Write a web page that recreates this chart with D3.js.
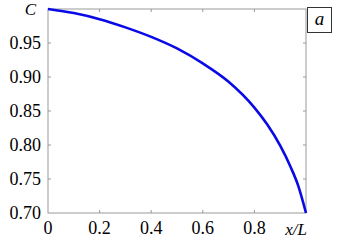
<!DOCTYPE html>
<html>
<head>
<meta charset="utf-8">
<script src="https://cdn.jsdelivr.net/npm/d3@7"></script>
<style>
  body { margin: 0; background: #fff; }
  svg text { font-family: "Liberation Serif", "DejaVu Serif", serif; fill: #000; }
</style>
</head>
<body>
<script>
// values
const xVals = [0, 0.1, 0.2, 0.3, 0.4, 0.5, 0.6, 0.7, 0.8, 0.85, 0.9, 0.94, 0.97, 1.0];
const cVals = [1.000, 0.994, 0.985, 0.973, 0.959, 0.942, 0.920, 0.893, 0.855, 0.830, 0.799, 0.768, 0.740, 0.700];
const xTicks = [0, 0.2, 0.4, 0.6, 0.8];
const yTicks = [0.70, 0.75, 0.80, 0.85, 0.90, 0.95];

const width = 337, height = 241;
const mLeft = 48, mRight = 306, mTop = 9, mBottom = 213;

const svg = d3.select("body").append("svg")
  .attr("width", width)
  .attr("height", height);

const x = d3.scaleLinear().domain([0, 1]).range([mLeft, mRight]);
const y = d3.scaleLinear().domain([0.70, 1.0]).range([mBottom, mTop]);

const grey = "#999";

// frame
svg.append("rect")
  .attr("x", mLeft).attr("y", mTop)
  .attr("width", mRight - mLeft).attr("height", mBottom - mTop)
  .attr("fill", "none").attr("stroke", grey).attr("stroke-width", 1);

// inward ticks on all sides
const tl = 3;
svg.selectAll(".xt").data(xTicks.slice(1)).enter().append("g").each(function(d) {
  const g = d3.select(this);
  g.append("line").attr("x1", x(d)).attr("x2", x(d)).attr("y1", mBottom).attr("y2", mBottom - tl).attr("stroke", grey);
  g.append("line").attr("x1", x(d)).attr("x2", x(d)).attr("y1", mTop).attr("y2", mTop + tl).attr("stroke", grey);
});
svg.selectAll(".yt").data(yTicks.slice(1)).enter().append("g").each(function(d) {
  const g = d3.select(this);
  g.append("line").attr("x1", mLeft).attr("x2", mLeft + tl).attr("y1", y(d)).attr("y2", y(d)).attr("stroke", grey);
  g.append("line").attr("x1", mRight).attr("x2", mRight - tl).attr("y1", y(d)).attr("y2", y(d)).attr("stroke", grey);
});

// tick labels
svg.selectAll(".xl").data(xTicks).enter().append("text")
  .attr("x", d => x(d)).attr("y", 234)
  .attr("text-anchor", "middle").attr("font-size", 18)
  .text(d => d === 0 ? "0" : d3.format(".1f")(d));

svg.selectAll(".yl").data(yTicks).enter().append("text")
  .attr("x", 41).attr("y", d => y(d))
  .attr("dy", "0.35em")
  .attr("text-anchor", "end").attr("font-size", 18)
  .text(d => d3.format(".2f")(d));

// axis titles
svg.append("text").attr("x", 36).attr("y", 15)
  .attr("text-anchor", "end").attr("font-size", 17).attr("font-style", "italic")
  .text("C");
svg.append("text").attr("x", 296).attr("y", 235)
  .attr("text-anchor", "middle").attr("font-size", 17).attr("font-style", "italic")
  .text("x/L");

// panel label
svg.append("rect").attr("x", 307.5).attr("y", 7.5).attr("width", 24).attr("height", 25)
  .attr("fill", "#fff").attr("stroke", "#333").attr("stroke-width", 1);
svg.append("text").attr("x", 319.5).attr("y", 25)
  .attr("text-anchor", "middle").attr("font-size", 19).attr("font-style", "italic")
  .text("a");

// curve
const pts = xVals.map((v, i) => [v, cVals[i]]);
svg.append("path")
  .datum(pts)
  .attr("fill", "none")
  .attr("stroke", "#0a0ae6")
  .attr("stroke-width", 2.6)
  .attr("d", d3.line().x(d => x(d[0])).y(d => y(d[1])).curve(d3.curveMonotoneX));
</script>
</body>
</html>
